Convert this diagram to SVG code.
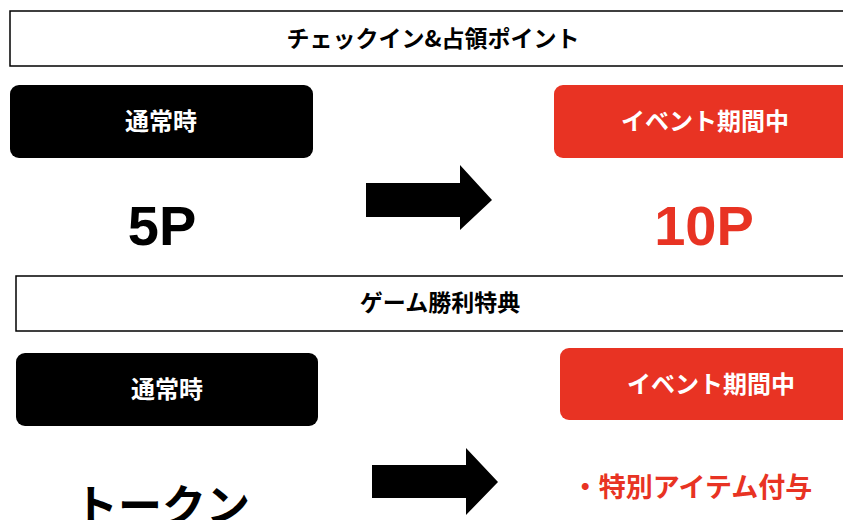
<svg xmlns="http://www.w3.org/2000/svg" width="843" height="520" viewBox="0 0 843 520">
<style>
.hdr{fill:#fff;stroke:#000;stroke-width:1.5}
.blk{fill:#000}
.red{fill:#e83323}
.t{font-family:"Noto Sans CJK JP","Liberation Sans",sans-serif;font-weight:bold;text-anchor:middle}
.w{fill:#fff;font-size:24px}
.h{fill:#000;font-size:23px}
.big{font-family:"Liberation Sans",Arial,sans-serif;font-weight:bold;font-size:56px;text-anchor:middle}
</style>
<rect width="843" height="520" fill="#fff"/>
<g id="header1"><rect class="hdr" x="10" y="11" width="845" height="55"/><text class="t h" x="433" y="47">チェックイン&amp;占領ポイント</text></g>
<g id="normal1"><rect class="blk" x="10" y="85" width="303" height="73" rx="9"/><text class="t w" x="161" y="130">通常時</text></g>
<g id="event1"><rect class="red" x="554" y="85" width="300" height="73" rx="9"/><text class="t w" x="705" y="130">イベント期間中</text></g>
<g id="v5p"><text class="big" x="162" y="245" fill="#000">5P</text></g>
<g id="v10p"><text class="big" x="704" y="245" fill="#e83323">10P</text></g>
<g id="header2"><rect class="hdr" x="16" y="276" width="840" height="55"/><text class="t h" x="440" y="311">ゲーム勝利特典</text></g>
<g id="normal2"><rect class="blk" x="16" y="353" width="302" height="73" rx="9"/><text class="t w" x="167" y="398">通常時</text></g>
<g id="event2"><rect class="red" x="560" y="348" width="295" height="72" rx="9"/><text class="t w" x="711" y="393">イベント期間中</text></g>
<g id="token"><text class="t" x="162" y="522" font-size="44" font-weight="500" fill="#000">トークン</text></g>
<g id="item"><text class="t" x="692" y="497" font-size="27" fill="#e83323">・特別アイテム付与</text></g>
<g id="connectors">
<polygon points="366,183 460,183 460,165 492,200 460,230 460,217 366,217" fill="#000"/>
<polygon points="372,465 466,465 466,448 498,482 466,515 466,498 372,498" fill="#000"/>
</g>
</svg>
